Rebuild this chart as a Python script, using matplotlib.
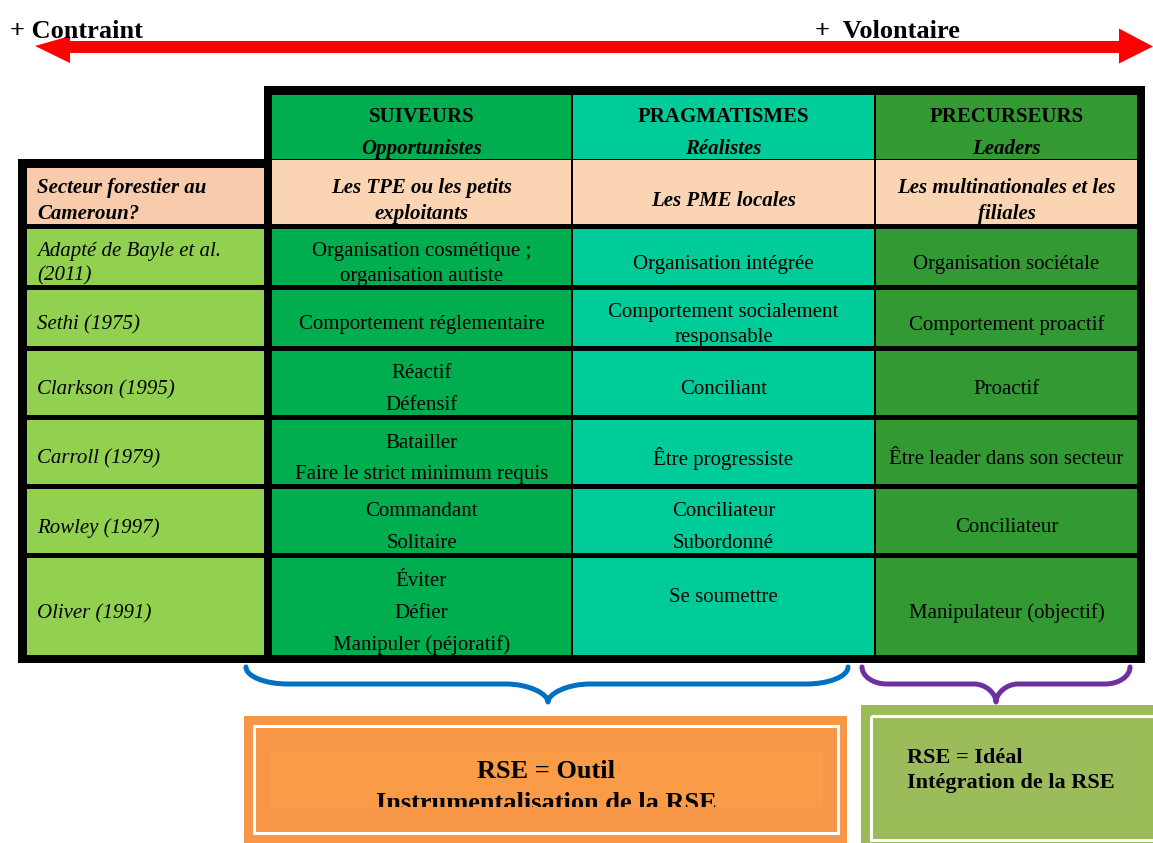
import matplotlib.pyplot as plt
from matplotlib.patches import Rectangle, Polygon, PathPatch
from matplotlib.path import Path

# ---- contenu du tableau ----
columns = ["SUIVEURS", "PRAGMATISMES", "PRECURSEURS"]
column_subtitles = ["Opportunistes", "Réalistes", "Leaders"]
sector_label = "Secteur forestier au\nCameroun?"
sector_values = ["Les TPE ou les petits\nexploitants", "Les PME locales",
                 "Les multinationales et les\nfiliales"]
authors = ["Adapté de Bayle et al.\n(2011)", "Sethi (1975)", "Clarkson (1995)",
           "Carroll (1979)", "Rowley (1997)", "Oliver (1991)"]
# chaque cellule = liste de paragraphes
suiveurs = [["Organisation cosmétique ;\norganisation autiste"],
            ["Comportement réglementaire"],
            ["Réactif", "Défensif"],
            ["Batailler", "Faire le strict minimum requis"],
            ["Commandant", "Solitaire"],
            ["Éviter", "Défier", "Manipuler (péjoratif)"]]
pragmatismes = [["Organisation intégrée"],
                ["Comportement socialement\nresponsable"],
                ["Conciliant"],
                ["Être progressiste"],
                ["Conciliateur", "Subordonné"],
                ["Se soumettre", ""]]
precurseurs = [["Organisation sociétale"],
               ["Comportement proactif"],
               ["Proactif"],
               ["Être leader dans son secteur"],
               ["Conciliateur"],
               ["Manipulateur (objectif)"]]
axis_left = "+ Contraint"
axis_right = "+  Volontaire"
outil_lines = ["RSE = Outil", "Instrumentalisation de la RSE"]
ideal_lines = ["RSE = Idéal", "Intégration de la RSE"]

# ---- mise en page (pixels) ----
W, H = 1153, 843
col_x = [(27, 264), (272, 571), (573, 874), (876, 1137)]
head_y = (95, 159)
peach_y = (160, 224)
row_y = [(229, 285), (290, 346), (351, 415), (420, 484), (489, 553), (558, 655)]
col_colors = ["#00AD4F", "#00CC99", "#339933"]
left_green = "#92D050"
peach = "#FBD4B4"
peach_left = "#F8CBAD"
orange = "#F79646"
SERIF = "Liberation Serif"
FS = 15
PARA = 32
LS = 1.38

fig = plt.figure(figsize=(W / 100, H / 100), dpi=100)
ax = fig.add_axes([0, 0, 1, 1])
ax.set_xlim(0, W)
ax.set_ylim(H, 0)
ax.axis("off")


def rect(x0, y0, x1, y1, **kw):
    p = Rectangle((x0, y0), x1 - x0, y1 - y0, **kw)
    ax.add_patch(p)
    return p


def cell_text(x, yc, paras, ha="center", **kw):
    n = len(paras)
    for i, p in enumerate(paras):
        y = yc + (i - (n - 1) / 2) * PARA
        ax.text(x, y, p, ha=ha, va="center", family=SERIF, fontsize=FS,
                linespacing=LS, color="black", zorder=6, **kw)


def brace(x0, x1, xm, ytop, ymid, ybot, rc, rt, color):
    k = 0.552
    verts = [(x0, ytop),
             (x0, ytop + k * (ymid - ytop)), (x0 + rc * (1 - k), ymid), (x0 + rc, ymid),
             (xm - rt, ymid),
             (xm - rt * (1 - k), ymid), (xm, ymid + k * (ybot - ymid)), (xm, ybot),
             (xm, ymid + k * (ybot - ymid)), (xm + rt * (1 - k), ymid), (xm + rt, ymid),
             (x1 - rc, ymid),
             (x1 - rc * (1 - k), ymid), (x1, ytop + k * (ymid - ytop)), (x1, ytop)]
    codes = [Path.MOVETO, Path.CURVE4, Path.CURVE4, Path.CURVE4, Path.LINETO,
             Path.CURVE4, Path.CURVE4, Path.CURVE4, Path.CURVE4, Path.CURVE4,
             Path.CURVE4, Path.LINETO, Path.CURVE4, Path.CURVE4, Path.CURVE4]
    ax.add_patch(PathPatch(Path(verts, codes), fill=False, edgecolor=color,
                           lw=3.6, capstyle="round", joinstyle="round", zorder=3))


# ---- flèche du haut ----
rect(60, 40.5, 1125, 52.5, facecolor="red", edgecolor="none", zorder=2)
rect(0, 0, 230, 40.6, facecolor="white", edgecolor="none", zorder=3)
rect(795, 0, 1057, 41, facecolor="white", edgecolor="none", zorder=3)
ax.add_patch(Polygon([(35, 46), (70, 36), (70, 63)], closed=True,
                     facecolor="red", edgecolor="none", zorder=4))
ax.add_patch(Polygon([(1153, 46.5), (1119, 28.5), (1119, 63.5)], closed=True,
                     facecolor="red", edgecolor="none", zorder=4))
ax.text(10, 38, axis_left, ha="left", va="baseline", family=SERIF,
        fontweight="bold", fontsize=19, zorder=5)
ax.text(815, 38, axis_right, ha="left", va="baseline", family=SERIF,
        fontweight="bold", fontsize=19, zorder=5)

# ---- tableau ----
rect(264, 86, 1145, 663, facecolor="black", edgecolor="none", zorder=1)
rect(18, 159, 272, 663, facecolor="black", edgecolor="none", zorder=1)

for j in range(3):
    x0, x1 = col_x[j + 1]
    xc = (x0 + x1) / 2
    rect(x0, head_y[0], x1, head_y[1], facecolor=col_colors[j], edgecolor="none", zorder=2)
    rect(x0, peach_y[0], x1, peach_y[1], facecolor=peach, edgecolor="none", zorder=2)
    yc = (head_y[0] + head_y[1]) / 2 + 6
    ax.text(xc, yc - PARA / 2, columns[j], ha="center", va="center", family=SERIF,
            fontsize=FS, fontweight="bold", zorder=6)
    ax.text(xc, yc + PARA / 2, column_subtitles[j], ha="center", va="center",
            family=SERIF, fontsize=FS, fontweight="bold", style="italic", zorder=6)
    cell_text(xc, (peach_y[0] + peach_y[1]) / 2 + 9, [sector_values[j]],
              fontweight="bold", style="italic")

rect(col_x[0][0], 168, col_x[0][1], peach_y[1], facecolor=peach_left,
     edgecolor="none", zorder=2)
cell_text(37, (168 + peach_y[1]) / 2 + 5, [sector_label], ha="left",
          fontweight="bold", style="italic")

body = [suiveurs, pragmatismes, precurseurs]
for i, (y0, y1) in enumerate(row_y):
    yc = (y0 + y1) / 2 + 7
    rect(col_x[0][0], y0, col_x[0][1], y1, facecolor=left_green, edgecolor="none", zorder=2)
    cell_text(37, yc, [authors[i]], ha="left", style="italic")
    for j in range(3):
        x0, x1 = col_x[j + 1]
        rect(x0, y0, x1, y1, facecolor=col_colors[j], edgecolor="none", zorder=2)
        cell_text((x0 + x1) / 2, yc, body[j][i])

# ---- accolades ----
brace(246, 848, 548, 667, 684, 702, 42, 42, "#0070C0")
brace(862, 1130, 996, 667, 684, 702, 25, 22, "#7030A0")

# ---- encadré orange (texte coupé en bas par la zone de texte) ----
rect(244, 716, 847, 845, facecolor=orange, edgecolor="none", zorder=2)
rect(270, 751, 823, 807, facecolor="#FA9C47", edgecolor="none", zorder=3)
for k, line in enumerate(outil_lines):
    ax.text(546, 778 + k * 32, line, ha="center", va="baseline", family=SERIF,
            fontsize=19, fontweight="bold", zorder=4)
rect(262, 807, 830, 828, facecolor=orange, edgecolor="none", zorder=5)
rect(254, 726, 838, 833, facecolor="none", edgecolor="white", lw=2.2, zorder=6)

# ---- encadré vert ----
rect(861, 705, 1160, 850, facecolor="#9BBB59", edgecolor="none", zorder=2)
rect(871, 716, 1165, 840, facecolor="none", edgecolor="white", lw=2.2, zorder=3)
rect(888, 742, 1143, 817, facecolor="#9CBC5B", edgecolor="none", zorder=3)
for k, line in enumerate(ideal_lines):
    ax.text(907, 763 + k * 25, line, ha="left", va="baseline", family=SERIF,
            fontsize=16, fontweight="bold", zorder=5)

fig.savefig("out.png", dpi=100)
